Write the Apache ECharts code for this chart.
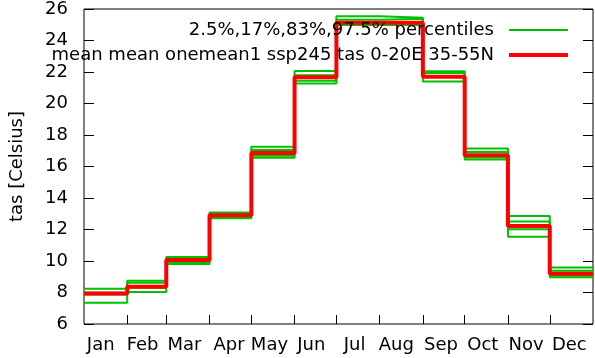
<!DOCTYPE html>
<html>
<head>
<meta charset="utf-8">
<script src="https://cdn.jsdelivr.net/npm/echarts@6/dist/echarts.min.js"></script>
<style>
html,body{margin:0;padding:0;background:#fff;}
#chart{width:595px;height:358px;}
</style>
</head>
<body>
<div id="chart"></div>
<script>
const months = ['Jan','Feb','Mar','Apr','May','Jun','Jul','Aug','Sep','Oct','Nov','Dec'];
const monthDays = [31,28,31,30,31,30,31,31,30,31,30,31];
const labelDays = [12,42,72,104,133,163,194,224,256,286,317,348];
const yMin = 6, yMax = 26, yStep = 2;

const meanVals = [7.93, 8.37, 10.07, 12.91, 16.85, 21.67, 25.12, 25.12, 21.70, 16.72, 12.23, 9.19];
const p025 = [7.35, 8.03, 9.81, 12.72, 16.56, 21.27, 24.98, 25.00, 21.40, 16.44, 11.54, 8.97];
const p17  = [7.88, 8.30, 9.92, 12.78, 16.69, 21.45, 25.12, 25.15, 21.72, 16.57, 12.01, 9.08];
const p83  = [7.98, 8.62, 10.18, 13.02, 17.05, 21.80, 25.32, 25.38, 21.94, 16.92, 12.51, 9.38];
const p975 = [8.24, 8.75, 10.26, 13.08, 17.25, 22.07, 25.54, 25.44, 22.05, 17.14, 12.85, 9.59];

const pctName = '2.5%,17%,83%,97.5% percentiles';
const meanName = 'mean mean onemean1 ssp245 tas 0-20E 35-55N';

const boundaries = [];
{ let s = 0; for (let i = 0; i < 11; i++) { s += monthDays[i]; boundaries.push(s); } }
const yearDays = monthDays.reduce((a,b)=>a+b,0);

function stepData(vals) {
  const d = []; let s = 0;
  vals.forEach((v,i) => { d.push([s, v]); s += monthDays[i]; });
  d.push([s, vals[vals.length-1]]);
  return d;
}

const font = 'DejaVu Sans';
const green = '#00c000', red = '#ff0000';

function greenSeries(vals) {
  return { name: pctName, type: 'line', step: 'end', symbol: 'none', data: stepData(vals),
    lineStyle: { color: green, width: 2 }, itemStyle: { color: green }, z: 2, silent: true };
}

const chart = echarts.init(document.getElementById('chart'), null, { renderer: 'canvas' });
chart.setOption({
  animation: false,
  backgroundColor: '#fff',
  textStyle: { fontFamily: font },
  grid: { left: 79, right: 2, top: 9, bottom: 34, show: true, borderColor: '#000', borderWidth: 1, backgroundColor: 'transparent' },
  legend: {
    data: [
      { name: pctName, lineStyle: { width: 2, color: green } },
      { name: meanName, lineStyle: { width: 4, color: red } }
    ],
    orient: 'vertical', align: 'right',
    right: 25, top: 21, padding: 0,
    itemWidth: 59, itemHeight: 14, itemGap: 7,
    itemStyle: { opacity: 0 },
    textStyle: { fontFamily: font, fontSize: 18, color: '#000', lineHeight: 18, padding: [0, 10, 0, 0] },
    selectedMode: false
  },
  xAxis: {
    type: 'value', min: 0, max: yearDays,
    axisLine: { show: false },
    splitLine: { show: false },
    axisTick: { show: true, inside: true, length: 9, customValues: boundaries, lineStyle: { color: '#000', width: 1 } },
    axisLabel: { customValues: labelDays, margin: 12, fontSize: 18, color: '#000', fontFamily: font,
      formatter: v => months[labelDays.indexOf(v)] || '' }
  },
  yAxis: [{
    type: 'value', min: yMin, max: yMax, interval: yStep,
    name: 'tas [Celsius]', nameLocation: 'middle', nameGap: 58, nameRotate: 90,
    nameTextStyle: { fontSize: 18, color: '#000', fontFamily: font },
    axisLine: { show: false }, splitLine: { show: false },
    axisTick: { inside: true, length: 10, lineStyle: { color: '#000' } },
    axisLabel: { margin: 16, fontSize: 18, color: '#000', fontFamily: font }
  }, {
    type: 'value', min: yMin, max: yMax, interval: yStep, position: 'right',
    axisLine: { show: false }, splitLine: { show: false },
    axisTick: { inside: true, length: 10, lineStyle: { color: '#000' } },
    axisLabel: { show: false }
  }],
  series: [
    greenSeries(p025), greenSeries(p17), greenSeries(p83), greenSeries(p975),
    { name: meanName, type: 'line', step: 'end', symbol: 'none', data: stepData(meanVals),
      lineStyle: { color: red, width: 4 }, itemStyle: { color: red }, z: 3, silent: true }
  ]
});
</script>
</body>
</html>
